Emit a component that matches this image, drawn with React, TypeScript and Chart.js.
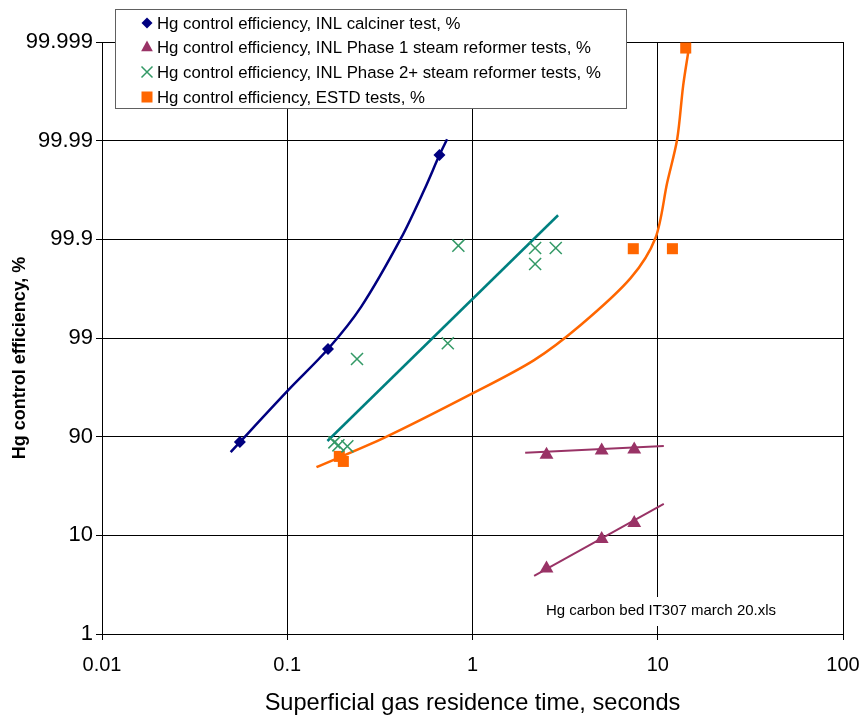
import React, { useEffect, useRef } from 'react';
import { Chart, registerables } from 'chart.js';

Chart.register(...registerables);

// ---- tick labels ----
const xTicks = [0.01, 0.1, 1, 10, 100];
const yTickLabels = ['1', '10', '90', '99', '99.9', '99.99', '99.999'];

// y values are in axis units: 0 = "1", 1 = "10", 2 = "90", 3 = "99", 4 = "99.9", 5 = "99.99", 6 = "99.999"

// INL calciner test
const calcinerX = [0.0555, 0.166, 0.663];
const calcinerY = [1.945, 2.888, 4.854];
const calcinerFitX = [0.0495, 0.1012, 0.166, 0.251, 0.412, 0.55, 0.663, 0.729];
const calcinerFitY = [1.844, 2.471, 2.888, 3.318, 4.014, 4.505, 4.854, 5.014];

// INL Phase 1 steam reformer tests (two groups)
const phase1X = [2.509, 4.981, 7.466];
const phase1UpperY = [1.817, 1.861, 1.871];
const phase1LowerY = [0.664, 0.963, 1.126];
const phase1UpperFitX = [1.925, 10.78];
const phase1UpperFitY = [1.838, 1.905];
const phase1LowerFitX = [2.151, 10.78];
const phase1LowerFitY = [0.59, 1.319];

// INL Phase 2+ steam reformer tests
const phase2X = [0.1797, 0.1889, 0.2111, 0.238, 0.7355, 0.8387, 2.178, 2.178, 2.815];
const phase2Y = [1.942, 1.912, 1.902, 2.787, 2.946, 3.936, 3.912, 3.75, 3.912];
const phase2FitX = [0.1648, 2.897];
const phase2FitY = [1.956, 4.244];

// ESTD tests
const estdX = [0.191, 0.2008, 7.378, 12.0, 14.16];
const estdY = [1.8, 1.749, 3.905, 3.905, 5.939];
const estdFitX = [0.1438, 0.335, 1.0, 2.151, 3.838, 7.135, 9.72, 11.24, 12.73, 13.71, 14.7];
const estdFitY = [1.691, 1.99, 2.438, 2.776, 3.132, 3.607, 4.014, 4.573, 5.014, 5.556, 5.929];

const legendLabels = [
  'Hg control efficiency, INL calciner test, %',
  'Hg control efficiency, INL Phase 1 steam reformer tests, %',
  'Hg control efficiency, INL Phase 2+ steam reformer tests, %',
  'Hg control efficiency, ESTD tests, %',
];
const xTitle = 'Superficial gas residence time, seconds';
const yTitle = 'Hg control efficiency, %';
const noteText = 'Hg carbon bed IT307 march 20.xls';

const NAVY = '#000080';
const PURPLE = '#993366';
const GREEN = '#339966';
const TEAL = '#008080';
const ORANGE = '#FF6600';
const FONT = '"Liberation Sans", Arial, sans-serif';

const pts = (xs: number[], ys: number[]) => xs.map((x, i) => ({ x, y: ys[i] }));

function drawMarker(ctx: CanvasRenderingContext2D, kind: string, x: number, y: number, color: string) {
  ctx.save();
  ctx.fillStyle = color;
  ctx.strokeStyle = color;
  ctx.beginPath();
  if (kind === 'diamond') {
    const r = 5.5;
    ctx.moveTo(x, y - r); ctx.lineTo(x + r, y); ctx.lineTo(x, y + r); ctx.lineTo(x - r, y); ctx.closePath(); ctx.fill();
  } else if (kind === 'triangle') {
    const r = 6.5;
    ctx.moveTo(x, y - r); ctx.lineTo(x + r * 0.9, y + r * 0.65); ctx.lineTo(x - r * 0.9, y + r * 0.65); ctx.closePath(); ctx.fill();
  } else if (kind === 'cross') {
    const r = 5.5;
    ctx.lineWidth = 1.5;
    ctx.moveTo(x - r, y - r); ctx.lineTo(x + r, y + r); ctx.moveTo(x + r, y - r); ctx.lineTo(x - r, y + r); ctx.stroke();
  } else {
    const r = 5.5;
    ctx.fillRect(x - r, y - r, 2 * r, 2 * r);
  }
  ctx.restore();
}

const overlayPlugin = {
  id: 'overlay',
  afterDraw(chart: any) {
    const ctx: CanvasRenderingContext2D = chart.ctx;
    const ca = chart.chartArea;
    ctx.save();
    // legend box
    const bx = ca.left + 13, by = 9, bw = 511, bh = 99;
    ctx.fillStyle = '#ffffff';
    ctx.fillRect(bx, by, bw, bh);
    ctx.strokeStyle = '#606060';
    ctx.lineWidth = 1;
    ctx.strokeRect(bx + 0.5, by + 0.5, bw, bh);
    const kinds = ['diamond', 'triangle', 'cross', 'square'];
    const colors = [NAVY, PURPLE, GREEN, ORANGE];
    const rowY = [23, 47, 72, 97];
    ctx.font = `16.8px ${FONT}`;
    ctx.textBaseline = 'middle';
    ctx.textAlign = 'left';
    legendLabels.forEach((t, i) => {
      drawMarker(ctx, kinds[i], bx + 32, rowY[i], colors[i]);
      ctx.fillStyle = '#000';
      ctx.fillText(t, bx + 42, rowY[i] + 1);
    });

    // note text with white background
    ctx.font = `15px ${FONT}`;
    const nw = ctx.measureText(noteText).width;
    const nx = 661, ny = 611;
    ctx.fillStyle = '#fff';
    ctx.fillRect(nx - nw / 2 - 4, ny - 14, nw + 8, 29);
    ctx.fillStyle = '#000';
    ctx.textAlign = 'center';
    ctx.fillText(noteText, nx, ny);

    // axis titles
    ctx.font = `23.6px ${FONT}`;
    ctx.fillText(xTitle, (ca.left + ca.right) / 2, 703);
    ctx.translate(20, 358);
    ctx.rotate(-Math.PI / 2);
    ctx.font = `bold 18px ${FONT}`;
    ctx.fillText(yTitle, 0, 0);
    ctx.restore();
  },
};

export default function App() {
  const ref = useRef<HTMLCanvasElement | null>(null);
  useEffect(() => {
    if (!ref.current) return;
    const fitLine = (xs: number[], ys: number[], color: string, width: number, tension: number) => ({
      type: 'line' as const,
      data: pts(xs, ys),
      borderColor: color,
      borderWidth: width,
      pointRadius: 0,
      fill: false,
      tension,
      order: 2,
    });
    const chart = new Chart(ref.current, {
      type: 'scatter',
      data: {
        datasets: [
          fitLine(calcinerFitX, calcinerFitY, NAVY, 2.5, 0.3),
          fitLine(phase1UpperFitX, phase1UpperFitY, PURPLE, 2, 0),
          fitLine(phase1LowerFitX, phase1LowerFitY, PURPLE, 2, 0),
          fitLine(phase2FitX, phase2FitY, TEAL, 2.5, 0),
          fitLine(estdFitX, estdFitY, ORANGE, 2.5, 0.3),
          {
            data: pts(calcinerX, calcinerY),
            pointStyle: 'rectRot',
            pointRadius: 6,
            backgroundColor: NAVY,
            borderColor: NAVY,
            borderWidth: 0,
            order: 0,
          },
          {
            data: pts(phase1X, phase1UpperY).concat(pts(phase1X, phase1LowerY)),
            pointStyle: 'triangle',
            pointRadius: 8,
            backgroundColor: PURPLE,
            borderColor: PURPLE,
            borderWidth: 0,
            order: 0,
          },
          {
            data: pts(phase2X, phase2Y),
            pointStyle: 'crossRot',
            pointRadius: 8.5,
            backgroundColor: GREEN,
            borderColor: GREEN,
            borderWidth: 1.5,
            order: 0,
          },
          {
            data: pts(estdX, estdY),
            pointStyle: 'rect',
            pointRadius: 7.8,
            backgroundColor: ORANGE,
            borderColor: ORANGE,
            borderWidth: 0,
            order: 0,
          },
        ],
      },
      options: {
        responsive: false,
        animation: false,
        layout: { padding: { left: 0, right: 18, top: 42, bottom: 0 } },
        plugins: { legend: { display: false }, tooltip: { enabled: false } },
        scales: {
          x: {
            type: 'logarithmic',
            min: 0.01,
            max: 100,
            afterBuildTicks: (axis: any) => {
              axis.ticks = xTicks.map((v) => ({ value: v }));
            },
            afterFit: (axis: any) => {
              axis.height = 83;
              axis.paddingLeft = 0;
              axis.paddingRight = 0;
            },
            ticks: {
              autoSkip: false,
              maxRotation: 0,
              padding: 13,
              color: '#000',
              font: { family: FONT, size: 20 },
              callback: (v: any) => String(v),
            },
            grid: { color: '#000', lineWidth: 1, tickLength: 6 },
            border: { color: '#000', width: 1 },
          },
          y: {
            type: 'linear',
            min: 0,
            max: 6,
            afterFit: (axis: any) => {
              axis.width = 102;
              axis.paddingTop = 0;
              axis.paddingBottom = 0;
            },
            ticks: {
              stepSize: 1,
              padding: 3,
              color: '#000',
              font: { family: FONT, size: 22 },
              callback: (v: any) => yTickLabels[Math.round(v)] ?? '',
            },
            grid: { color: '#000', lineWidth: 1, tickLength: 6 },
            border: { color: '#000', width: 1 },
          },
        },
      },
      plugins: [overlayPlugin],
    } as any);
    return () => chart.destroy();
  }, []);
  return (
    <div style={{ position: 'absolute', left: 0, top: 0, width: 861, height: 717, background: '#fff' }}>
      <canvas ref={ref} width={861} height={717} style={{ display: 'block' }} />
    </div>
  );
}
